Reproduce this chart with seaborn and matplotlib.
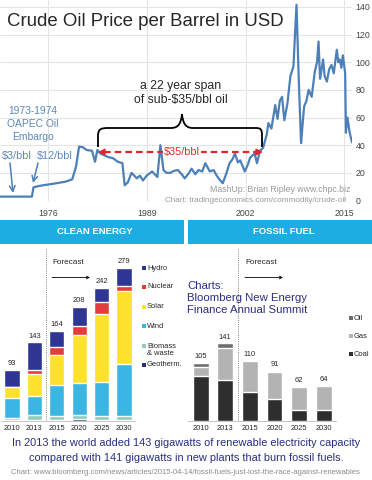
import matplotlib
matplotlib.use('Agg')
import matplotlib.pyplot as plt
from matplotlib import font_manager
from matplotlib.path import Path
from matplotlib.patches import PathPatch, Rectangle
import pandas as pd
import seaborn as sns

W, H = 372, 480

# crude oil price, USD per barrel
oil_years = [1969.7, 1973.9, 1974.1, 1974.8, 1975.6, 1976.9, 1978.3, 1979.2, 1979.7, 1980.1,
             1980.6, 1981.1, 1981.8, 1982.2, 1982.5, 1982.9, 1983.3, 1983.9, 1984.6, 1985.2,
             1985.8, 1986.1, 1986.5, 1987.0, 1987.7, 1988.1, 1988.5, 1989.0, 1989.7, 1990.4,
             1990.8, 1991.2, 1991.6, 1992.1, 1992.6, 1993.1, 1993.6, 1994.0, 1994.5, 1994.9,
             1995.4, 1995.8, 1996.3, 1996.7, 1997.3, 1997.8, 1998.2, 1998.6, 1999.0, 1999.5,
             1999.9, 2000.3, 2000.6, 2001.0, 2001.3, 2001.9, 2002.3, 2002.6, 2003.0, 2003.2,
             2003.5, 2003.9, 2004.3, 2004.8, 2005.0, 2005.4, 2005.9, 2006.2, 2006.5, 2006.8,
             2007.1, 2007.5, 2007.9, 2008.3, 2008.5, 2008.7, 2009.0, 2009.3, 2009.5, 2009.7,
             2010.0, 2010.3, 2010.7, 2011.1, 2011.4, 2011.6, 2011.8, 2012.0, 2012.2, 2012.4,
             2012.7, 2013.0, 2013.3, 2013.6, 2014.0, 2014.2, 2014.4, 2014.6, 2014.8, 2015.1,
             2015.2, 2015.4, 2015.7, 2016.0]
oil_prices = [2.8, 2.8, 9.5, 10.5, 11.2, 12.3, 13.6, 15.3, 24.5, 39.0,
              38.5, 36.5, 36.0, 28.0, 36.5, 34.0, 33.0, 31.5, 30.5, 28.0,
              27.0, 11.0, 13.0, 20.0, 16.0, 18.0, 14.5, 18.0, 21.0, 17.0,
              40.0, 22.0, 20.0, 20.0, 21.5, 22.0, 19.0, 16.0, 19.5, 23.0,
              19.0, 22.0, 21.0, 27.0, 21.0, 22.0, 18.0, 15.0, 12.5, 20.0,
              27.0, 30.0, 34.0, 27.5, 29.0, 21.0, 26.0, 31.0, 33.0, 34.0,
              27.0, 36.0, 38.0, 48.0, 56.0, 52.0, 69.0, 59.0, 72.0, 75.0,
              58.0, 70.0, 90.0, 97.0, 120.0, 141.5, 87.0, 41.5, 55.0, 68.0,
              72.0, 80.0, 75.0, 93.0, 100.0, 115.0, 88.0, 95.0, 102.0, 90.0,
              86.0, 95.0, 98.0, 92.0, 109.0, 100.0, 102.0, 96.0, 105.0, 92.0,
              49.0, 60.0, 49.0, 42.0]
oil_xticks = [1976, 1989, 2002, 2015]
oil_yticks = [0, 20, 40, 60, 80, 100, 120, 140]

# new capacity added, gigawatts
bar_years = ['2010', '2013', '2015', '2020', '2025', '2030']
geotherm = [1, 1, 1, 3, 2, 2]
biomass = [4, 9, 8, 8, 7, 6]
wind = [36, 35, 56, 57, 61, 95]
solar = [20, 41, 54, 88, 125, 133]
nuclear = [0, 6, 15, 17, 22, 10]
hydro = [32, 51, 30, 35, 25, 33]
clean_totals = [93, 143, 164, 208, 242, 279]

coal = [82, 74, 52, 39, 20, 20]
gas = [16, 59, 56, 49, 41, 43]
oil = [7, 8, 2, 3, 1, 1]
fossil_totals = [105, 141, 110, 91, 62, 64]

clean_colors = {'Geotherm.': '#2a2d78', 'Biomass\n& waste': '#8fcdb9', 'Wind': '#3bb6e2',
                'Solar': '#fde12d', 'Nuclear': '#e63b3b', 'Hydro': '#2e3592'}
fossil_colors = {'Coal': '#2e2e2e', 'Gas': '#b3b3b3', 'Oil': '#6e6e6e'}

LINE = '#4d7fb8'
BLUE_TXT = '#5b88b8'
RED = '#e3262b'
NAVY = '#2a2e80'
CYAN = '#1caee2'

# the picture's text is squeezed sideways; a narrow face fits it better if present
have_narrow = any(f.name == 'Liberation Sans Narrow' for f in font_manager.fontManager.ttflist)
NARROW = ['Liberation Sans Narrow', 'DejaVu Sans'] if have_narrow else ['Liberation Sans', 'DejaVu Sans']
K = 1.2 if have_narrow else 1.0


def rect(x0, y0, x1, y1):
    return [x0 / W, 1 - y1 / H, (x1 - x0) / W, (y1 - y0) / H]


def stacked(ax, layers, colors, totals, width):
    df = pd.DataFrame(layers, index=bar_years)
    cum = df.cumsum(axis=1)
    # tallest first, each lower layer paints over it
    for col in reversed(df.columns):
        sns.barplot(x=bar_years, y=cum[col].values, color=colors[col], width=width,
                    saturation=1, errorbar=None, ax=ax)
    for i, t in enumerate(totals):
        ax.text(i, t + 5, str(t), ha='center', va='bottom', fontsize=5.4 * K, family=NARROW)
    ax.set_xlim(-0.5, 5.5)
    ax.set_ylim(0, 315)
    ax.set_xlabel('')
    ax.set_ylabel('')
    ax.set_yticks([])
    for s in ['top', 'left', 'right']:
        ax.spines[s].set_visible(False)
    ax.spines['bottom'].set_color('#bbbbbb')
    ax.spines['bottom'].set_linewidth(0.6)
    ax.set_xticks(range(6))
    ax.set_xticks([0.5, 1.5, 2.5, 3.5, 4.5], minor=True)
    ax.tick_params(axis='x', which='major', length=0, labelsize=5.4 * K, pad=3)
    ax.tick_params(axis='x', which='minor', length=2.5, width=0.5, color='#bbbbbb')
    for lab in ax.get_xticklabels():
        lab.set_family(NARROW)
    ax.axvline(1.5, color='#888888', ls=(0, (1, 1.2)), lw=0.7)
    ax.patch.set_alpha(0)


sns.set_style('white')
plt.rcParams['font.family'] = ['Liberation Sans', 'DejaVu Sans']

fig = plt.figure(figsize=(W / 100, H / 100), dpi=100)

# ---- oil price line chart ----
ax = fig.add_axes(rect(0, 0, 352, 200.5))
sns.lineplot(x=oil_years, y=oil_prices, color=LINE, lw=1.6, ax=ax)
ax.set_xlim(1969.7, 2016.0)
ax.set_ylim(0, 145)
ax.set_xticks(oil_xticks)
ax.set_yticks(oil_yticks)
ax.yaxis.tick_right()
ax.grid(True, color='#e4e4e4', lw=0.8)
ax.tick_params(axis='y', length=0, labelsize=6.3, colors='#444444', pad=2.5)
ax.tick_params(axis='x', length=0, labelsize=6.3, colors='#444444', pad=6)
for s in ax.spines.values():
    s.set_visible(False)
ax.set_xlabel('')
ax.set_ylabel('')

# ---- bar charts ----
ax_c = fig.add_axes(rect(0.8, 248, 135.2, 420.7))
stacked(ax_c, {'Geotherm.': geotherm, 'Biomass\n& waste': biomass, 'Wind': wind,
               'Solar': solar, 'Nuclear': nuclear, 'Hydro': hydro},
        clean_colors, clean_totals, 0.67)

ax_f = fig.add_axes(rect(188.4, 248, 336.0, 420.7))
stacked(ax_f, {'Coal': coal, 'Gas': gas, 'Oil': oil}, fossil_colors, fossil_totals, 0.65)

# ---- overlay in pixel coordinates for all the annotations ----
ov = fig.add_axes([0, 0, 1, 1])
ov.set_xlim(0, W)
ov.set_ylim(H, 0)
ov.axis('off')
ov.patch.set_alpha(0)

ov.text(7, 21, 'Crude Oil Price per Barrel in USD', fontsize=13.4, va='center', ha='left')

ov.text(181, 86, 'a 22 year span', fontsize=8.8, ha='center', va='center')
ov.text(181, 100, 'of sub-$35/bbl oil', fontsize=8.8, ha='center', va='center')

brace = Path([(98, 147), (98, 136), (98, 129), (101, 128), (108, 128), (171, 128),
              (178, 128), (181, 124), (182, 114), (183, 124), (186, 128), (193, 128),
              (255, 128), (261, 128), (262, 129), (262, 136), (262, 147)],
             [Path.MOVETO, Path.LINETO, Path.CURVE4, Path.CURVE4, Path.CURVE4, Path.LINETO,
              Path.CURVE4, Path.CURVE4, Path.CURVE4, Path.CURVE4, Path.CURVE4, Path.CURVE4,
              Path.LINETO, Path.CURVE4, Path.CURVE4, Path.CURVE4, Path.LINETO])
ov.add_patch(PathPatch(brace, fc='none', ec='black', lw=1.3))

ov.plot([104, 256], [152, 152], color=RED, lw=1.6, ls=(0, (3, 1.8)))
for a, b in [(98, 107), (263, 254)]:
    ov.annotate('', xy=(a, 152), xytext=(b, 152),
                arrowprops=dict(arrowstyle='-|>', color=RED, lw=1.2, mutation_scale=9,
                                shrinkA=0, shrinkB=0))
ov.text(182, 152, '$35/bbl', color=RED, fontsize=7.8, ha='center', va='center',
        bbox=dict(fc='white', ec='none', pad=0.6))

ov.text(33, 124, '1973-1974\nOAPEC Oil\nEmbargo', color=BLUE_TXT, fontsize=7.4 * K,
        family=NARROW, ha='center', va='center', linespacing=1.4 / K)
ov.text(17, 156, '$3/bbl', color=BLUE_TXT, fontsize=7.8 * K, family=NARROW,
        ha='center', va='center')
ov.text(55, 156, '$12/bbl', color=BLUE_TXT, fontsize=7.8 * K, family=NARROW,
        ha='center', va='center')
ov.annotate('', xy=(13, 193), xytext=(10, 163),
            arrowprops=dict(arrowstyle='->', color=LINE, lw=1.1, shrinkA=0, shrinkB=0))
ov.annotate('', xy=(33, 183), xytext=(38, 163),
            arrowprops=dict(arrowstyle='->', color=LINE, lw=1.1, shrinkA=0, shrinkB=0))

ov.text(350, 189, 'MashUp: Brian Ripley www.chpc.biz', color='#999999', fontsize=6.3 * K,
        family=NARROW, ha='right', va='center')
ov.text(346, 200, 'Chart: tradingeconomics.com/commodity/crude-oil', color='#999999',
        fontsize=5.9 * K, family=NARROW, ha='right', va='center')

# section headers
ov.add_patch(Rectangle((0, 219.5), 184, 24.5, color=CYAN, lw=0))
ov.add_patch(Rectangle((188, 219.5), 184, 24.5, color=CYAN, lw=0))
ov.text(95, 232, 'CLEAN ENERGY', color='white', fontsize=6.8, fontweight='bold',
        ha='center', va='center')
ov.text(284, 232, 'FOSSIL FUEL', color='white', fontsize=6.8, fontweight='bold',
        ha='center', va='center')

# forecast markers
for x0 in [52, 245]:
    ov.text(x0, 262, 'Forecast', fontsize=5.9 * K, family=NARROW, ha='left', va='center')
    ov.annotate('', xy=(x0 + 38, 277.5), xytext=(x0, 277.5),
                arrowprops=dict(arrowstyle='->', color='black', lw=0.6,
                                mutation_scale=5, shrinkA=0, shrinkB=0))

# legends
clean_leg_y = [268, 287, 307, 326, 346, 365]
for (name, col), y in zip(reversed(list(clean_colors.items())), clean_leg_y):
    ov.scatter([143.5], [y], marker='s', s=9, color=col, lw=0)
    ov.text(147, y + (-3.5 if '\n' in name else 0), name, fontsize=5.4 * K, family=NARROW,
            ha='left', va='top' if '\n' in name else 'center', linespacing=1.1)
fossil_leg_y = [318, 336, 354]
for (name, col), y in zip(reversed(list(fossil_colors.items())), fossil_leg_y):
    ov.scatter([350.5], [y], marker='s', s=9, color=col, lw=0)
    ov.text(354, y, name, fontsize=5.4 * K, family=NARROW, ha='left', va='center')

ov.text(187, 298, 'Charts:\nBloomberg New Energy\nFinance Annual Summit', color=NAVY,
        fontsize=8.2 * K, family=NARROW, ha='left', va='center', linespacing=1.3 / K)

ov.text(186, 443, 'In 2013 the world added 143 gigawatts of renewable electricity capacity',
        color=NAVY, fontsize=7.9 * K, family=NARROW, ha='center', va='center')
ov.text(186, 458, 'compared with 141 gigawatts in new plants that burn fossil fuels.',
        color=NAVY, fontsize=7.9 * K, family=NARROW, ha='center', va='center')
ov.text(185, 472, 'Chart: www.bloomberg.com/news/articles/2015-04-14/'
        'fossil-fuels-just-lost-the-race-against-renewables',
        color='#8a8a8a', fontsize=5.5 * K, family=NARROW, ha='center', va='center')

fig.savefig('out.png', dpi=100)
